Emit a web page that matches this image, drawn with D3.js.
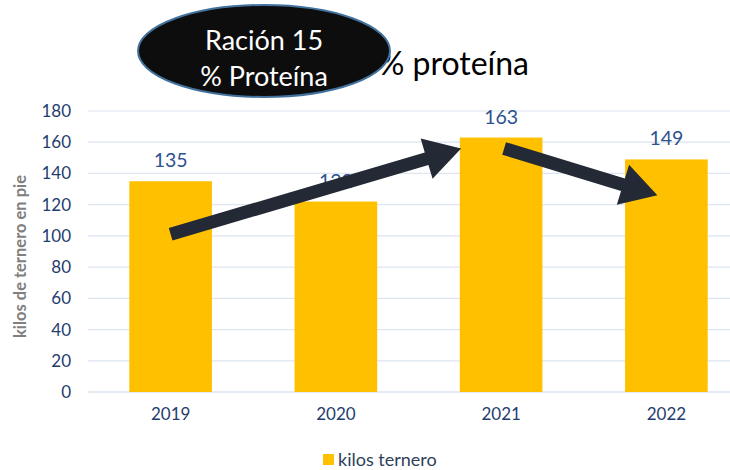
<!DOCTYPE html>
<html>
<head>
<meta charset="utf-8">
<script src="https://cdn.jsdelivr.net/npm/d3@7"></script>
<style>
  body { margin: 0; background: #fff; }
  svg { display: block; font-family: Lato, "Open Sans", sans-serif; }
</style>
</head>
<body>
<div id="chart"></div>
<script>
// data
const years = ['2019', '2020', '2021', '2022'];
const kilos = [135, 122, 163, 149];
const yTicks = [0, 20, 40, 60, 80, 100, 120, 140, 160, 180];
const seriesName = 'kilos ternero';
const titleText = 'Ración 15 % proteína';
const badgeLines = ['Ración 15', '% Proteína'];
// arrows drawn over the bars: [from year, from value, to year, to value, x offsets]
const arrows = [
  {from: '2019', fromVal: 101, to: '2021', toVal: 156, dx0: 0, dx1: -40},
  {from: '2021', fromVal: 156, to: '2022', toVal: 126, dx0: 3, dx1: -9}
];

const width = 730;
const height = 470;
const margin = {top: 111, right: -19, bottom: 78, left: 88};
const graphWidth = width - margin.left - margin.right;
const graphHeight = height - margin.top - margin.bottom;

const svg = d3.select('#chart')
  .append('svg')
  .attr('width', width)
  .attr('height', height);

const graph = svg.append('g')
  .attr('transform', `translate(${margin.left}, ${margin.top})`);

const x = d3.scaleBand()
  .domain(years)
  .range([0, graphWidth])
  .paddingInner(0.5)
  .paddingOuter(0.25);

const y = d3.scaleLinear()
  .domain([0, 180])
  .range([graphHeight, 0]);

// gridlines
graph.selectAll('line.grid')
  .data(yTicks)
  .enter()
  .append('line')
  .attr('class', 'grid')
  .attr('x1', 0)
  .attr('x2', graphWidth)
  .attr('y1', d => y(d))
  .attr('y2', d => y(d))
  .attr('stroke', d => d === 0 ? '#c9d6ea' : '#dde5f1')
  .attr('stroke-width', 1.2);

// y axis labels
const yAxis = d3.axisLeft(y).tickValues(yTicks).tickSize(0).tickPadding(17);
graph.append('g')
  .call(yAxis)
  .call(g => g.select('.domain').remove())
  .selectAll('text')
  .attr('fill', '#1f3d6e')
  .style('font-size', '17px')
  .style('font-family', 'Lato, sans-serif');

// x axis labels
const xAxis = d3.axisBottom(x).tickSize(0).tickPadding(16);
graph.append('g')
  .attr('transform', `translate(0, ${graphHeight})`)
  .call(xAxis)
  .call(g => g.select('.domain').remove())
  .selectAll('text')
  .attr('fill', '#1f3d6e')
  .style('font-size', '17px')
  .style('font-family', 'Lato, sans-serif');

// y axis title
svg.append('text')
  .text('kilos de ternero en pie')
  .attr('transform', `translate(26, ${margin.top + graphHeight / 2 + 5}) rotate(-90)`)
  .attr('text-anchor', 'middle')
  .attr('fill', '#7f7f7f')
  .style('font-weight', 'bold')
  .style('font-size', '16.5px');

// bars
graph.selectAll('rect.bar')
  .data(kilos)
  .enter()
  .append('rect')
  .attr('class', 'bar')
  .attr('x', (d, i) => x(years[i]))
  .attr('width', x.bandwidth())
  .attr('y', d => y(d))
  .attr('height', d => graphHeight - y(d))
  .attr('fill', '#ffc000');

// value labels
graph.selectAll('text.value')
  .data(kilos)
  .enter()
  .append('text')
  .attr('class', 'value')
  .text(d => d)
  .attr('x', (d, i) => x(years[i]) + x.bandwidth() / 2)
  .attr('y', d => y(d) - 14)
  .attr('text-anchor', 'middle')
  .attr('fill', '#2e528f')
  .style('font-size', '19.5px');

// arrows
function arrowPath(x0, y0, x1, y1, shaft, headW, headL) {
  const ang = Math.atan2(y1 - y0, x1 - x0);
  const len = Math.hypot(x1 - x0, y1 - y0);
  const pts = [
    [0, -shaft / 2], [len - headL, -shaft / 2], [len - headL, -headW / 2],
    [len, 0],
    [len - headL, headW / 2], [len - headL, shaft / 2], [0, shaft / 2]
  ].map(([px, py]) => [
    x0 + px * Math.cos(ang) - py * Math.sin(ang),
    y0 + px * Math.sin(ang) + py * Math.cos(ang)
  ]);
  return d3.line()(pts) + 'Z';
}

graph.selectAll('path.arrow')
  .data(arrows)
  .enter()
  .append('path')
  .attr('class', 'arrow')
  .attr('d', a => arrowPath(
    x(a.from) + x.bandwidth() / 2 + a.dx0, y(a.fromVal),
    x(a.to) + x.bandwidth() / 2 + a.dx1, y(a.toVal),
    13, 42, 36))
  .attr('fill', '#232a35');

// title (partly covered by the badge)
svg.append('text')
  .text(titleText)
  .attr('x', 529)
  .attr('y', 75)
  .attr('text-anchor', 'end')
  .attr('fill', '#000')
  .style('font-size', '32px');

// badge
const badge = svg.append('g');
badge.append('ellipse')
  .attr('cx', 264)
  .attr('cy', 51)
  .attr('rx', 126)
  .attr('ry', 46)
  .attr('fill', '#0d0d0d')
  .attr('stroke', '#41719c')
  .attr('stroke-width', 2);
badge.selectAll('text')
  .data(badgeLines)
  .enter()
  .append('text')
  .text(d => d)
  .attr('x', 264)
  .attr('y', (d, i) => 50 + i * 36)
  .attr('text-anchor', 'middle')
  .attr('fill', '#fff')
  .style('font-size', '27px');

// legend
const legend = svg.append('g')
  .attr('transform', 'translate(323, 454)');
legend.append('rect')
  .attr('width', 11)
  .attr('height', 11)
  .attr('fill', '#ffc000');
legend.append('text')
  .text(seriesName)
  .attr('x', 15)
  .attr('y', 12)
  .attr('fill', '#2f3f5a')
  .style('font-size', '18px');
</script>
</body>
</html>
